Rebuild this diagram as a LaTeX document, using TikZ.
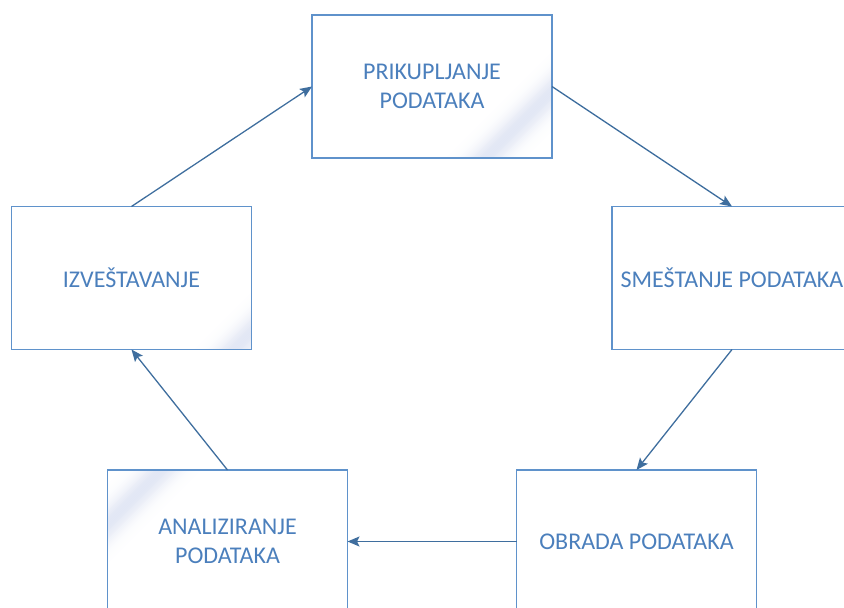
\documentclass[tikz,border=0pt]{standalone}
\usepackage{fontspec}
\setmainfont{Carlito}
\usetikzlibrary{arrows.meta,backgrounds}
\definecolor{boxline}{HTML}{5F92CB}
\definecolor{boxtext}{HTML}{4B7FBC}
\definecolor{flow}{HTML}{3F6E9E}
\definecolor{sheenc}{HTML}{D0D8EE}
% soft diagonal highlight: thin strips whose tint follows a bell curve
\newcommand\glossstreak[2]{%
  \foreach \i in {-24,...,24}{%
    \pgfmathsetmacro\tint{62*exp(-(\i*\i)/110)}%
    \fill[sheenc!\tint!white, rotate around={-45:(#1,#2)}]
      (#1+\i*1.3-0.8,#2-90) rectangle (#1+\i*1.3+0.8,#2+90);
  }%
}
\tikzset{
  stagebox/.style={draw=boxline, line width=1.1pt, minimum width=240pt,
    minimum height=143pt, inner sep=0pt, outer sep=0pt},
  stagelabel/.style={text=boxtext, align=center, inner sep=0pt,
    font=\fontsize{24}{29}\selectfont},
  flowarrow/.style={draw=flow, line width=1.3pt, -{Stealth[length=12pt,width=10pt,inset=2.5pt]}}
}
\begin{document}
\begin{tikzpicture}[x=1pt,y=-1pt]
  \useasboundingbox (0,0) rectangle (844,608);
  % process stages
  \node[stagebox] (P) at (432,86.5) {};
  \node[stagebox] (S) at (732,278) {};
  \node[stagebox] (O) at (636.5,541.5) {};
  \node[stagebox] (A) at (227.5,541.5) {};
  \node[stagebox] (I) at (131.5,278) {};
  % glossy streaks in the box corners, kept behind the frames
  \begin{pgfonlayer}{background}
    \begin{scope}
      \clip (P.south west) rectangle (P.north east);
      \glossstreak{518}{126}
    \end{scope}
    \begin{scope}
      \clip (I.south west) rectangle (I.north east);
      \glossstreak{242}{342}
    \end{scope}
    \begin{scope}
      \clip (A.south west) rectangle (A.north east);
      \glossstreak{140}{492}
    \end{scope}
  \end{pgfonlayer}
  % labels
  \node[stagelabel] (tP) at (P.center) {PRIKUPLJANJE\\PODATAKA};
  \node[stagelabel] (tS) at (S.center) {SMEŠTANJE PODATAKA};
  \node[stagelabel] (tO) at (O.center) {OBRADA PODATAKA};
  \node[stagelabel] (tA) at (A.center) {ANALIZIRANJE\\PODATAKA};
  \node[stagelabel] (tI) at (I.center) {IZVEŠTAVANJE};
  % cycle connectors
  \draw[flowarrow] (I.north) -- (P.west);
  \draw[flowarrow] (P.east) -- (S.north);
  \draw[flowarrow] (S.south) -- (O.north);
  \draw[flowarrow] (O.west) -- (A.east);
  \draw[flowarrow] (A.north) -- (I.south);
\end{tikzpicture}
\end{document}
